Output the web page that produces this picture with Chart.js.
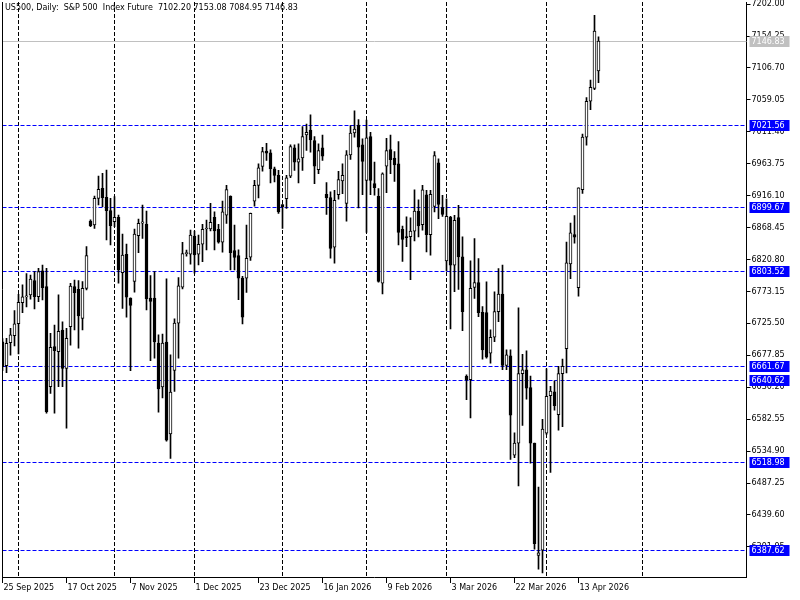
<!DOCTYPE html>
<html>
<head>
<meta charset="utf-8">
<script src="https://cdn.jsdelivr.net/npm/chart.js@4.4.1/dist/chart.umd.min.js"></script>
<style>
  html, body { margin: 0; padding: 0; background: #fff; }
  canvas { display: block; }
</style>
</head>
<body>
<canvas id="chart" width="800" height="600"></canvas>
<script>
// daily candles, one per slot
const openP = [
  6698, 6662.5, 6696.8, 6707.3, 6725.2, 6756.5, 6765, 6768, 6789.3, 6765.5,
  6803.8, 6780.4, 6631.2, 6690.9, 6683.4, 6715.7, 6658.5, 6720.7, 6780.4, 6776.4,
  6733.1, 6777.9, 6878.4, 6872.4, 6912.2, 6927.1, 6913.7, 6893.8, 6877.4, 6883.8,
  6801.3, 6828.6, 6763.2, 6788, 6856.5, 6875, 6873.9, 6763.2, 6763.2, 6696.2,
  6630.7, 6697.7, 6560.7, 6655.5, 6726, 6779.6, 6829.7, 6828.7, 6856, 6828.7,
  6843.6, 6866.4, 6866.4, 6883.8, 6865.9, 6846.6, 6887.1, 6915.3, 6834.2, 6826.8,
  6793.2, 6793.2, 6824.3, 6907.8, 6931.6, 6959.8, 6982.5, 6980, 6956.3, 6946.4,
  6902.9, 6911.8, 6945.4, 6987.5, 6966.2, 6972.6, 7006.7, 7014.1, 6998.3, 6954.8,
  6987.5, 6918.2, 6913.3, 6839.1, 6917.7, 6938, 6904.4, 6977.1, 7009.7, 7021.6,
  6991.9, 6939, 7004.3, 6934, 6915.3, 6785.7, 6960.3, 6985, 6972.1, 6963.7,
  6865.8, 6855, 6855, 6863.3, 6892.7, 6872.9, 6917.5, 6858, 6900.2, 6965.1,
  6898.2, 6818.9, 6884.3, 6812.4, 6883.3, 6824.8, 6646.4, 6641.4, 6779.2, 6786.6,
  6742, 6741.5, 6681.1, 6704.9, 6743, 6769.3, 6662.7, 6677.1, 6528.9, 6546.9,
  6650.6, 6656.1, 6629.9, 6546.9, 6379.4, 6387.1, 6561.6, 6617.8, 6623.3, 6589.5,
  6650.6, 6687.7, 6814.2, 6857.9, 6778.8, 6925, 7003.6, 7057, 7076.1, 7102.2
];
const highP = [
  6703, 6703.3, 6718, 6744.6, 6769, 6783, 6800, 6797.8, 6802.8, 6807.8,
  6812.7, 6807.8, 6710.8, 6723.2, 6768, 6728, 6718.2, 6785.4, 6790.3, 6789.3,
  6787.8, 6840.1, 6879.9, 6915.7, 6945.5, 6949.5, 6954.5, 6912.2, 6914.7, 6887.3,
  6859, 6844, 6763.5, 6866.4, 6881.3, 6902.2, 6893.2, 6796.9, 6802.9, 6708.6,
  6709.6, 6791.9, 6678.8, 6732.4, 6793.9, 6846.6, 6835, 6864.9, 6863.4, 6857.5,
  6873.4, 6879.8, 6904.6, 6892.2, 6873.4, 6908.1, 6931.6, 6916, 6872.3, 6835.2,
  6795.6, 6872.3, 6890, 6939, 6963.7, 6988.4, 6994.4, 6984.5, 6958.8, 6953.8,
  6903, 6946.4, 6991.9, 6991.9, 6993.4, 7019.1, 7023, 7036.9, 7004.3, 6993.4,
  7006.7, 6935.5, 6921.7, 6924.2, 6952.3, 6963.7, 6983.5, 7020.6, 7042.8, 7029.5,
  7000.8, 7029, 7010.7, 6966.2, 6926.6, 6950.4, 7001.8, 7006.7, 6982, 6996.8,
  6870.8, 6884.6, 6883.1, 6925, 6910.1, 6931.4, 6924, 6924, 6982, 6971,
  6916.5, 6911.6, 6885.3, 6886.8, 6901.6, 6854.6, 6648.8, 6818.9, 6852.1, 6822.3,
  6750.5, 6787.6, 6715.8, 6772.8, 6807.5, 6812.4, 6686, 6686, 6562.2, 6748.8,
  6679.5, 6684.4, 6646.8, 6547, 6481.4, 6582.4, 6657.7, 6631.5, 6639.7, 6661.5,
  6672.4, 6847, 6875.3, 6886.3, 6928, 7007.9, 7062.5, 7088.7, 7185.2, 7153.08
];
const lowP = [
  6655, 6652.1, 6678, 6692, 6680, 6741.5, 6750, 6761.5, 6747, 6758,
  6760.5, 6591.4, 6621.2, 6591.4, 6631, 6631, 6569, 6693, 6715.7, 6688.4,
  6715.7, 6775.4, 6870, 6867.4, 6902.2, 6899.8, 6850, 6842.6, 6869.9, 6785.4,
  6748, 6735, 6655, 6772, 6831.2, 6852.5, 6745.8, 6669.9, 6673.8, 6592.9,
  6614.3, 6549.8, 6524, 6624.2, 6673.8, 6777.1, 6826, 6813.8, 6800.4, 6812.8,
  6817.8, 6835, 6863.4, 6835, 6845.1, 6831.7, 6874.7, 6805.5, 6805.5, 6761,
  6724.9, 6771.9, 6819.4, 6900.4, 6912.8, 6952.8, 6968.7, 6935, 6936.5, 6889.6,
  6867.3, 6897, 6943, 6953.8, 6935, 6953.8, 6983.5, 6981, 6934, 6948.9,
  6968.7, 6888.1, 6822.8, 6815.4, 6910.8, 6919.2, 6878.2, 6970.1, 7003.3, 6898,
  6917.7, 6861.4, 6917.7, 6916.8, 6787.2, 6769.4, 6920.7, 6948.9, 6937.5, 6842.6,
  6817.9, 6840.1, 6790.7, 6848.6, 6854.6, 6864.5, 6832.3, 6827.3, 6891.7, 6881.8,
  6885.3, 6804, 6717.3, 6772.8, 6776.2, 6714.8, 6611.7, 6584.4, 6762.9, 6735.6,
  6672.1, 6673.6, 6666.2, 6698.4, 6728.2, 6656.3, 6656.3, 6522.4, 6525.1, 6483.1,
  6573.1, 6612.4, 6516.9, 6388.7, 6358.7, 6353.2, 6560, 6503.3, 6596, 6566,
  6571.5, 6651.7, 6792.4, 6845.3, 6766.2, 6919.5, 6991.6, 7044.5, 7074.5, 7084.95
];
const closeP = [
  6661, 6695.8, 6708.3, 6724.7, 6757, 6765, 6766, 6791.8, 6765.5, 6802.8,
  6778.9, 6593.9, 6689.9, 6684.9, 6713.8, 6658.5, 6703.3, 6781.4, 6771.4, 6736.6,
  6777.9, 6826.6, 6871.4, 6912.2, 6925.6, 6913.2, 6893.8, 6871.4, 6883.8, 6805.3,
  6827.6, 6764.5, 6752.3, 6859, 6874.9, 6877, 6762.2, 6758.2, 6697.7, 6627.7,
  6696.2, 6551.3, 6623.2, 6726, 6781.6, 6829.7, 6830.2, 6857.5, 6827.7, 6843.6,
  6865.9, 6866.5, 6876.3, 6863.4, 6846.6, 6892.2, 6925.1, 6831.2, 6823.8, 6793.2,
  6734.8, 6822.8, 6889.6, 6931.6, 6957.8, 6982, 6979.6, 6956.3, 6946.4, 6892,
  6899.5, 6942.9, 6989.4, 6966.2, 6971.1, 7004.3, 7010.7, 6999.3, 6960.3, 6983.5,
  6975.1, 6913.3, 6837.6, 6909.3, 6940, 6946.4, 6977.1, 7009.7, 7015.6, 6988.4,
  6967.2, 7002.3, 6939, 6928.1, 6788.2, 6948.9, 6983.5, 6969.7, 6962.2, 6861.4,
  6851, 6853.5, 6863.3, 6893, 6870.9, 6925, 6858, 6918, 6976, 6903.1,
  6888.3, 6885.3, 6812.4, 6879.3, 6824.8, 6743, 6641.4, 6777.7, 6786.6, 6741.5,
  6686, 6675.1, 6704.9, 6743, 6769.3, 6662.7, 6678.6, 6588.4, 6546.9, 6650.6,
  6656.1, 6628.8, 6546.9, 6396.9, 6383.3, 6567.7, 6616.7, 6624.4, 6602.6, 6650.6,
  6661.5, 6815.9, 6860.6, 6854.1, 6927.7, 7003.6, 7057, 7077.8, 7161.8, 7146.83
];

// time axis: one slot per bar, the chart runs on past the last bar
const slotCount = 187;
const labelStep = 16;
const dateLabels = [
  '25 Sep 2025', '17 Oct 2025', '7 Nov 2025', '1 Dec 2025', '23 Dec 2025',
  '16 Jan 2026', '9 Feb 2026', '3 Mar 2026', '22 Mar 2026', '13 Apr 2026'
];
const monthStarts = [4, 28, 48, 70, 91, 111, 136, 160];

const priceTicks = [
  7202.00, 7154.25, 7106.70, 7059.05, 7011.40, 6963.75, 6916.10, 6868.45,
  6820.80, 6773.15, 6725.50, 6677.85, 6630.20, 6582.55, 6534.90, 6487.25,
  6439.60, 6391.95
];
const levels = [7021.56, 6899.67, 6803.52, 6661.67, 6640.62, 6518.98, 6387.62];
const bidPrice = 7146.83;
const titleText = 'US500, Daily:  S&P 500  Index Future  7102.20 7153.08 7084.95 7146.83';

const FONT = { family: 'DejaVu Sans', size: 8 };
Chart.defaults.font.family = FONT.family;
Chart.defaults.font.size = FONT.size;
Chart.defaults.color = '#000';

const slots = Array.from({ length: slotCount }, (_, i) => i);
const bodyColors = closeP.map((c, i) => (c >= openP[i] ? '#ffffff' : '#000000'));

function noPad(s) {
  s.paddingTop = 0;
  s.paddingBottom = 0;
  s.paddingLeft = 0;
  s.paddingRight = 0;
}

function boxLabel(ctx, a, py, value, bg) {
  ctx.fillStyle = bg;
  ctx.fillRect(a.right + 3, Math.round(py) - 5, 40, 11);
  ctx.fillStyle = '#ffffff';
  ctx.textBaseline = 'middle';
  ctx.textAlign = 'left';
  ctx.fillText(value.toFixed(2), a.right + 5, Math.round(py) + 0.5);
}

const overlay = {
  id: 'overlay',
  beforeDatasetsDraw(chart) {
    const { ctx, chartArea: a, scales: { y } } = chart;
    ctx.save();
    ctx.lineWidth = 1;
    let py = Math.round(y.getPixelForValue(bidPrice)) + 0.5;
    ctx.strokeStyle = '#c0c0c0';
    ctx.beginPath();
    ctx.moveTo(a.left, py);
    ctx.lineTo(a.right, py);
    ctx.stroke();
    ctx.strokeStyle = '#0000ff';
    ctx.setLineDash([4, 2]);
    levels.forEach((v) => {
      py = Math.round(y.getPixelForValue(v)) + 0.5;
      ctx.beginPath();
      ctx.moveTo(a.left, py);
      ctx.lineTo(a.right, py);
      ctx.stroke();
    });
    ctx.restore();
  },
  afterDraw(chart) {
    const { ctx, chartArea: a, scales: { y } } = chart;
    ctx.save();
    ctx.strokeStyle = '#000';
    ctx.lineWidth = 1;
    ctx.beginPath();
    ctx.moveTo(Math.floor(a.left) + 0.5, a.top);
    ctx.lineTo(Math.floor(a.left) + 0.5, a.bottom);
    ctx.stroke();

    ctx.font = FONT.size + 'px "' + FONT.family + '"';
    ctx.fillStyle = '#000';
    ctx.textBaseline = 'top';
    ctx.textAlign = 'left';
    ctx.fillText(titleText, 5, 4);

    boxLabel(ctx, a, y.getPixelForValue(bidPrice), bidPrice, '#c0c0c0');
    levels.forEach((v) => boxLabel(ctx, a, y.getPixelForValue(v), v, '#0000ff'));
    ctx.restore();
  },
};

const ctx = document.getElementById('chart').getContext('2d');

window.priceChart = new Chart(ctx, {
  type: 'bar',
  data: {
    labels: slots,
    datasets: [
      {
        label: 'body',
        data: openP.map((o, i) => [o, closeP[i]]),
        backgroundColor: bodyColors,
        borderColor: '#000000',
        borderWidth: 1,
        borderSkipped: false,
        barThickness: 3,
        minBarLength: 1,
        grouped: false,
        order: 0,
      },
      {
        label: 'wick',
        data: lowP.map((l, i) => [l, highP[i]]),
        backgroundColor: '#000000',
        borderWidth: 0,
        barThickness: 1,
        grouped: false,
        order: 1,
      },
    ],
  },
  options: {
    responsive: false,
    devicePixelRatio: 1,
    animation: false,
    layout: { padding: { left: 2.5, top: 2, right: 0, bottom: 0 } },
    plugins: {
      legend: { display: false },
      tooltip: { enabled: false },
    },
    scales: {
      x: {
        type: 'category',
        offset: false,
        grid: { offset: false, drawOnChartArea: false, tickLength: 6, color: '#000' },
        border: { color: '#000' },
        ticks: {
          autoSkip: false,
          maxRotation: 0,
          align: 'start',
          padding: 0,
          labelOffset: 1,
          callback: (v) => dateLabels[v / labelStep],
        },
        afterBuildTicks: (s) => {
          s.ticks = s.ticks.filter((t) => t.value % labelStep === 0 && t.value / labelStep < dateLabels.length);
        },
        afterFit: (s) => { s.height = 23; noPad(s); },
      },
      months: {
        type: 'category',
        position: 'bottom',
        offset: false,
        grid: { offset: false, drawTicks: false, color: '#000' },
        border: { display: false, dash: [4, 2] },
        ticks: { display: false },
        afterBuildTicks: (s) => {
          s.ticks = monthStarts.map((m) => ({ value: m }));
        },
        afterFit: (s) => { s.height = 0; noPad(s); },
      },
      y: {
        position: 'right',
        min: 6347.07,
        max: 7205.15,
        grid: { drawOnChartArea: false, tickLength: 4, color: '#000' },
        border: { color: '#000' },
        ticks: { padding: 1, callback: (v) => v.toFixed(2) },
        afterBuildTicks: (s) => {
          s.ticks = priceTicks.map((v) => ({ value: v }));
        },
        afterFit: (s) => { s.width = 53.5; noPad(s); },
      },
    },
  },
  plugins: [overlay],
});
</script>
</body>
</html>
